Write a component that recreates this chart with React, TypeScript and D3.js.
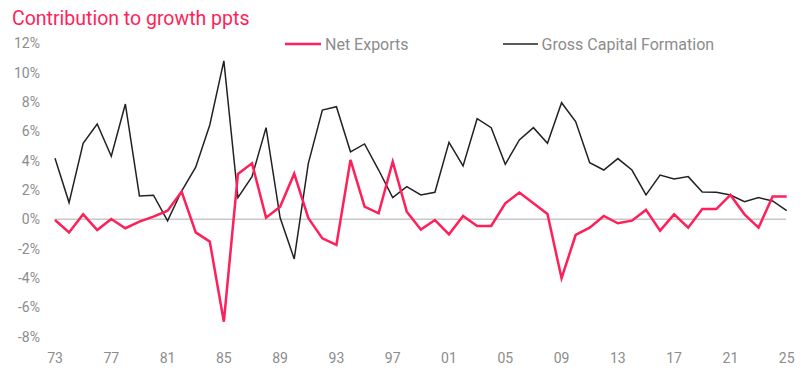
import React from "react";
import * as d3 from "d3";

const years: number[] = d3.range(1973, 2026);
const netExports: number[] = [
  -0.05, -0.9, 0.34, -0.73, 0.02, -0.61, -0.16, 0.18, 0.59, 1.89,
  -0.89, -1.52, -6.98, 3.09, 3.82, 0.11, 0.86, 3.11, 0.1, -1.3,
  -1.75, 4.05, 0.86, 0.41, 3.93, 0.52, -0.7, -0.05, -1.02, 0.23,
  -0.45, -0.45, 1.09, 1.82, 1.09, 0.36, -4.02, -1.07, -0.57, 0.23,
  -0.27, -0.09, 0.64, -0.77, 0.34, -0.57, 0.7, 0.7, 1.66, 0.34,
  -0.57, 1.55, 1.55,
];
const grossCapitalFormation: number[] = [
  4.16, 1.14, 5.18, 6.5, 4.3, 7.86, 1.59, 1.64, -0.1, 1.93,
  3.55, 6.43, 10.8, 1.48, 2.9, 6.25, 0.1, -2.7, 3.8, 7.45,
  7.68, 4.6, 5.14, 3.36, 1.48, 2.23, 1.66, 1.84, 5.25, 3.64,
  6.86, 6.25, 3.75, 5.41, 6.25, 5.18, 7.95, 6.66, 3.86, 3.36,
  4.14, 3.36, 1.66, 3.02, 2.75, 2.91, 1.86, 1.84, 1.66, 1.2,
  1.48, 1.25, 0.59,
];
const yTicks: number[] = [-8, -6, -4, -2, 0, 2, 4, 6, 8, 10, 12];
const xTicks: number[] = d3.range(1973, 2026, 4);
const seriesNames: string[] = ["Net Exports", "Gross Capital Formation"];
const title = "Contribution to growth ppts";

const RED = "#ff1f5a";
const BLACK = "#222222";
const GREY = "#8c8c8c";
const FONT = "Roboto, sans-serif";

export default function App() {
  const W = 803, H = 376;
  const x = d3.scaleLinear().domain([1973, 2025]).range([55, 786.7]);
  const y = d3.scaleLinear().domain([0, 12]).range([219.3, 43.3]);
  const mk = (vals: number[]) =>
    d3.line<number>().x((_, i) => x(years[i])).y((d) => y(d))(vals) || "";
  const fmtYear = (yr: number) => String(yr % 100).padStart(2, "0");
  return (
    <svg width={W} height={H} style={{ position: "absolute", left: 0, top: 0 }}>
      <rect width={W} height={H} fill="#fff" />
      <text x={12} y={25} fill={RED} fontFamily={FONT} fontSize={19.5}>{title}</text>
      <line x1={54} x2={786} y1={y(0)} y2={y(0)} stroke="#c8c8c8" strokeWidth={1.5} />
      {yTicks.map((t) => (
        <text key={t} x={40} y={y(t)} dy="0.36em" textAnchor="end" fill={GREY} fontFamily={FONT} fontSize={14}>
          {t}%
        </text>
      ))}
      {xTicks.map((t) => (
        <text key={t} x={x(t)} y={358} dy="0.36em" textAnchor="middle" fill={GREY} fontFamily={FONT} fontSize={14}>
          {fmtYear(t)}
        </text>
      ))}
      <path d={mk(grossCapitalFormation)} fill="none" stroke={BLACK} strokeWidth={1.5} strokeLinejoin="miter" />
      <path d={mk(netExports)} fill="none" stroke={RED} strokeWidth={2.5} strokeLinejoin="miter" />
      <line x1={285} x2={321} y1={44} y2={44} stroke={RED} strokeWidth={2.5} />
      <text x={325} y={44} dy="0.36em" fill={GREY} fontFamily={FONT} fontSize={16}>{seriesNames[0]}</text>
      <line x1={503} x2={538} y1={44} y2={44} stroke={BLACK} strokeWidth={1.5} />
      <text x={541.5} y={44} dy="0.36em" fill={GREY} fontFamily={FONT} fontSize={16}>{seriesNames[1]}</text>
    </svg>
  );
}
